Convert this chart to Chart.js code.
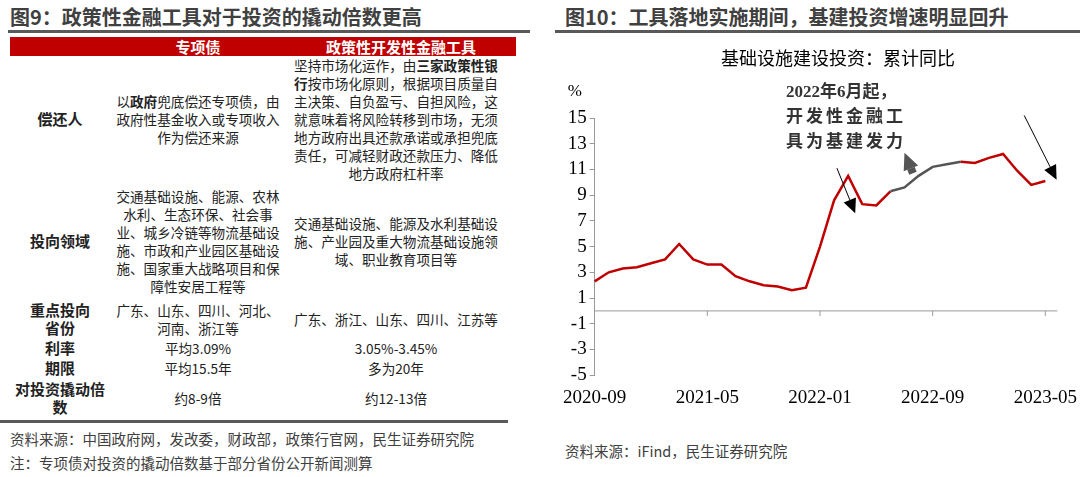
<!DOCTYPE html>
<html><head><meta charset="utf-8">
<script src="https://cdn.jsdelivr.net/npm/chart.js@4"></script>
<style>
body{margin:0;width:1080px;height:477px;background:#fff;position:relative;overflow:hidden;font-family:"Noto Sans CJK SC",sans-serif;}
.ttl{position:absolute;top:2px;font-size:20px;font-weight:bold;color:#404040;letter-spacing:0px}
.line{position:absolute;height:3px;background:#595959}
table{position:absolute;left:10px;top:37px;width:506px;border-collapse:collapse;font-size:13.6px;line-height:18px;color:#222;table-layout:fixed}
th{background:#c00000;color:#fff;font-size:15px;height:19px;padding:0;line-height:18px}
td{text-align:center;padding:0 2px;vertical-align:middle}
td:first-child{font-weight:bold;font-size:15px}
td.c3{padding:0 18px 0 8px}
.src{position:absolute;left:10px;font-size:14.5px;color:#404040}
</style></head><body>
<div class="ttl" style="left:10px">图9：政策性金融工具对于投资的撬动倍数更高</div>
<div class="line" style="left:8px;top:30px;width:522px"></div>
<table>
<tr><th style="width:100px"></th><th style="width:176px">专项债</th><th>政策性开发性金融工具</th></tr>
<tr style="height:126px"><td>偿还人</td><td>以<b>政府</b>兜底偿还专项债，由政府性基金收入或专项收入作为偿还来源</td><td class="c3">坚持市场化运作，由<b>三家政策性银行</b>按市场化原则，根据项目质量自主决策、自负盈亏、自担风险，这就意味着将风险转移到市场，无须地方政府出具还款承诺或承担兜底责任，可减轻财政还款压力、降低地方政府杠杆率</td></tr>
<tr style="height:118px"><td>投向领域</td><td>交通基础设施、能源、农林水利、生态环保、社会事业、城乡冷链等物流基础设施、市政和产业园区基础设施、国家重大战略项目和保障性安居工程等</td><td class="c3">交通基础设施、能源及水利基础设施、产业园及重大物流基础设施领域、职业教育项目等</td></tr>
<tr style="height:38px"><td>重点投向<br>省份</td><td>广东、山东、四川、河北、<br>河南、浙江等</td><td class="c3">广东、浙江、山东、四川、江苏等</td></tr>
<tr style="height:20px"><td>利率</td><td>平均3.09%</td><td class="c3">3.05%-3.45%</td></tr>
<tr style="height:20px"><td>期限</td><td>平均15.5年</td><td class="c3">多为20年</td></tr>
<tr style="height:40px"><td>对投资撬动倍<br>数</td><td>约8-9倍</td><td class="c3">约12-13倍</td></tr>
</table>
<div class="line" style="left:0;top:420px;width:508px"></div>
<div class="src" style="top:428px">资料来源：中国政府网，发改委，财政部，政策行官网，民生证券研究院</div>
<div class="src" style="top:452px">注：专项债对投资的撬动倍数基于部分省份公开新闻测算</div>

<div class="ttl" style="left:565px">图10：工具落地实施期间，基建投资增速明显回升</div>
<div class="line" style="left:555px;top:30px;width:525px"></div>
<div style="position:absolute;left:560px;top:40px;width:520px;height:372px"><canvas id="c"></canvas></div>
<div class="src" style="left:565px;top:440px">资料来源：iFind，民生证券研究院</div>
<script>
const months = ["2020-09","2020-10","2020-11","2020-12","2021-01","2021-02","2021-03","2021-04","2021-05","2021-06","2021-07","2021-08","2021-09","2021-10","2021-11","2021-12","2022-01","2022-02","2022-03","2022-04","2022-05","2022-06","2022-07","2022-08","2022-09","2022-10","2022-11","2022-12","2023-01","2023-02","2023-03","2023-04","2023-05"];
const infraYoY = [2.3,3.0,3.3,3.4,3.7,4.0,5.2,4.0,3.6,3.6,2.7,2.3,2.0,1.9,1.6,1.8,5.0,8.6,10.5,8.3,8.2,9.3,9.6,10.5,11.2,11.4,11.6,11.5,11.9,12.2,10.9,9.8,10.1];
const grayStart = 21, grayEnd = 26;
const yTicks = [-5,-3,-1,1,3,5,7,9,11,13,15];

const serif = "'Liberation Serif','Noto Sans CJK SC',serif";
const arrows = [
  {from:[17.2,11.1], to:[18.5,7.6], w:1, head:11, color:"#000"},
  {from:[30.5,15.2], to:[32.8,10.2], w:1, head:11, color:"#000"},
  {from:[22.6,10.7], to:[22.0,12.3], w:8, head:13, color:"#555"}
];
const deco = {
  id:"deco",
  afterDraw(ch){
    const c = ch.ctx, x = ch.scales.x, y = ch.scales.y;
    c.save();
    c.strokeStyle = "#999"; c.lineWidth = 1;
    const y0 = y.getPixelForValue(0);
    c.beginPath(); c.moveTo(x.left, y0); c.lineTo(x.right+12, y0); c.stroke();
    for (let i = 8; i < months.length; i += 8) {
      const px = x.getPixelForValue(i);
      c.beginPath(); c.moveTo(px, y0); c.lineTo(px, y0+5); c.stroke();
    }
    c.fillStyle = "#000"; c.font = "17px " + serif;
    c.fillText("%", x.left-27, y.top-22);
    c.font = "18px 'Noto Sans CJK SC'"; c.textAlign = "center";
    c.fillText("基础设施建设投资：累计同比", 838-560, 25);
    c.font = "bold 17px " + serif; c.fillStyle = "#333"; c.textAlign = "left";
    c.fillText("2022年6月起，", 786-560, 57);
    c.letterSpacing = "3px";
    c.fillText("开发性金融工", 786-560, 82);
    c.fillText("具为基建发力", 786-560, 107);
    for (const a of arrows) {
      const x1 = x.getPixelForValue(a.from[0]), y1 = y.getPixelForValue(a.from[1]);
      const x2 = x.getPixelForValue(a.to[0]), y2 = y.getPixelForValue(a.to[1]);
      const ang = Math.atan2(y2-y1, x2-x1);
      const bx = x2 - a.head*1.3*Math.cos(ang), by = y2 - a.head*1.3*Math.sin(ang);
      c.strokeStyle = a.color; c.fillStyle = a.color; c.lineWidth = a.w;
      c.beginPath(); c.moveTo(x1,y1); c.lineTo(bx,by); c.stroke();
      c.beginPath(); c.moveTo(x2,y2);
      c.lineTo(bx + a.head*0.6*Math.sin(ang), by - a.head*0.6*Math.cos(ang));
      c.lineTo(bx - a.head*0.6*Math.sin(ang), by + a.head*0.6*Math.cos(ang));
      c.closePath(); c.fill();
    }
    c.restore();
  }
};

new Chart(document.getElementById("c"), {
  type: "line",
  data: {
    labels: months,
    datasets: [{
      data: infraYoY,
      borderColor: "#c00000",
      borderWidth: 2.5,
      pointRadius: 0,
      tension: 0,
      segment: {
        borderColor: (s) => (s.p0DataIndex >= grayStart && s.p1DataIndex <= grayEnd ? "#555" : "#c00000"),
      },
    }],
  },
  options: {
    responsive: true,
    maintainAspectRatio: false,
    animation: false,
    layout: { padding: { top: 78, right: 26, left: 0, bottom: 0 } },
    plugins: { legend: { display: false }, tooltip: { enabled: false } },
    scales: {
      x: {
        grid: { display: false },
        border: { display: false },
        ticks: {
          autoSkip: false, maxRotation: 0, color: "#000",
          font: { family: serif, size: 19 },
          callback: (v, i) => (i % 8 === 0 ? months[i] : ""),
        },
      },
      y: {
        min: -5, max: 15,
        afterBuildTicks: (s) => { s.ticks = yTicks.map((v) => ({ value: v })); },
        grid: { drawOnChartArea: false, color: "#999", tickLength: 5 },
        border: { color: "#999" },
        ticks: { autoSkip: false, color: "#000", font: { family: serif, size: 19 } },
      },
    },
  },
  plugins: [deco],
});
</script>
</body></html>
